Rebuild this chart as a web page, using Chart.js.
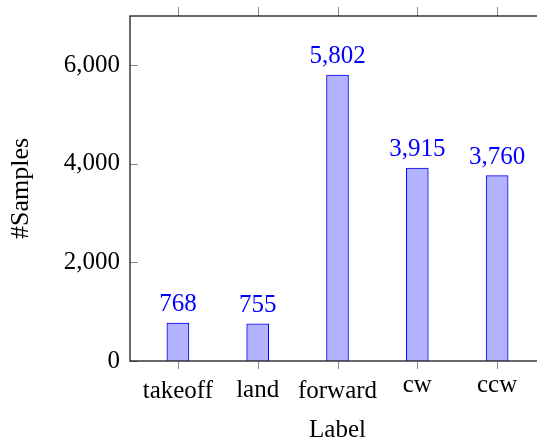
<!DOCTYPE html>
<html>
<head>
<meta charset="utf-8">
<title>#Samples per label</title>
<script src="https://cdn.jsdelivr.net/npm/chart.js@4.4.0/dist/chart.umd.min.js"></script>
<style>
  html, body { margin: 0; padding: 0; overflow: hidden; background: #fff; }
  #wrap { width: 546px; height: 447px; }
</style>
</head>
<body>
<div id="wrap"><canvas id="chart" width="546" height="447"></canvas></div>
<script>
const categories = ['takeoff', 'land', 'forward', 'cw', 'ccw'];
const samples = [768, 755, 5802, 3915, 3760];
const yTicks = [0, 2000, 4000, 6000];

const FONT = '"Liberation Serif", "Times New Roman", serif';
const BLUE = '#0000ff';
const fmt = v => v.toLocaleString('en-US');

// pgfplots-like box: x ticks outside, y ticks inside, labels hung from the top
const axisBox = {
  id: 'axisBox',
  afterDatasetsDraw(chart) {
    const { ctx, chartArea: a, scales: { x, y } } = chart;
    ctx.save();
    ctx.strokeStyle = '#8a8a8a';
    ctx.lineWidth = 1;
    ctx.beginPath();
    categories.forEach((_, i) => {
      const px = Math.round(x.getPixelForValue(i)) + 0.5;
      ctx.moveTo(px, a.top - 9); ctx.lineTo(px, a.top);
      ctx.moveTo(px, a.bottom); ctx.lineTo(px, a.bottom + 8);
    });
    yTicks.forEach(v => {
      const py = Math.round(y.getPixelForValue(v)) + 0.5;
      ctx.moveTo(a.left, py); ctx.lineTo(a.left + 8, py);
      ctx.moveTo(a.right, py); ctx.lineTo(a.right - 8, py);
    });
    ctx.stroke();

    ctx.strokeStyle = '#1a1a1a';
    ctx.lineWidth = 1.3;
    ctx.strokeRect(a.left, a.top, a.right - a.left, a.bottom - a.top);

    ctx.font = '25px ' + FONT;
    ctx.textAlign = 'center';
    ctx.textBaseline = 'alphabetic';
    ctx.fillStyle = '#000';
    categories.forEach((c, i) => {
      const m = ctx.measureText(c);
      ctx.fillText(c, x.getPixelForValue(i), a.bottom + 19 + m.actualBoundingBoxAscent);
    });

    ctx.fillStyle = BLUE;
    chart.getDatasetMeta(0).data.forEach((bar, i) => {
      ctx.fillText(fmt(samples[i]), bar.x, bar.y - 12);
    });
    ctx.restore();
  }
};

new Chart(document.getElementById('chart'), {
  type: 'bar',
  data: {
    datasets: [{
      data: categories.map((c, i) => ({ x: i, y: samples[i] })),
      backgroundColor: '#b3b3ff',
      borderColor: BLUE,
      borderWidth: 1,
      barThickness: 22
    }]
  },
  options: {
    responsive: false,
    animation: false,
    layout: { padding: { top: 16, right: 1, left: 0, bottom: 0 } },
    plugins: { legend: { display: false }, tooltip: { enabled: false } },
    scales: {
      x: {
        type: 'linear',
        min: -0.6,
        max: 4.6,
        offset: false,
        grid: { display: false, drawTicks: false },
        border: { display: false },
        ticks: { display: false, stepSize: 1 },
        title: {
          display: true, text: 'Label', color: '#000',
          font: { family: FONT, size: 25 }, padding: { top: 0, bottom: 2 }
        },
        afterFit(s) { s.height = 86; s.paddingLeft = 0; s.paddingRight = 0; }
      },
      y: {
        min: 0,
        max: 7000,
        grid: { display: false, drawTicks: false },
        border: { display: false },
        afterBuildTicks(s) { s.ticks = yTicks.map(v => ({ value: v })); },
        ticks: {
          padding: 10, color: '#000',
          font: { family: FONT, size: 25 },
          callback: v => fmt(v)
        },
        title: {
          display: true, text: '#Samples', color: '#000',
          font: { family: FONT, size: 26 }, padding: { top: 6, bottom: 0 }
        },
        afterFit(s) { s.width = 130; s.paddingTop = 0; s.paddingBottom = 0; }
      }
    }
  },
  plugins: [axisBox]
});
</script>
</body>
</html>
